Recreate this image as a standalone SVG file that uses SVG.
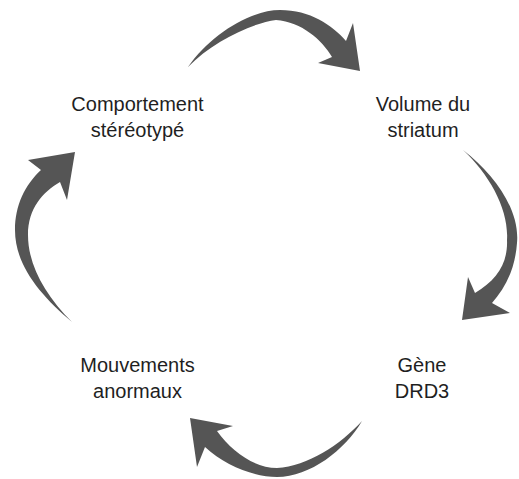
<svg xmlns="http://www.w3.org/2000/svg" width="519" height="479" viewBox="0 0 519 479">
<style>
.lbl{font-family:"Liberation Sans",Arial,sans-serif;font-size:20px;fill:#1f1f1f;text-anchor:middle}
.arr{fill:#555555;stroke:none}
</style>
<rect width="519" height="479" fill="#ffffff"/>
<g id="connectors">
<path class="arr" d="M188,67 C210,35 250,10 280,10 C310,10 332,25 346,41 L353,23 L360,71 L318,63 L332,57 C322,40 302,22 276,20 C252,23 212,42 188,67 Z"/>
<path class="arr" d="M463,150 C495,175 520,210 517,243 C515,270 505,288 492,303 L510,313 L462,320 L468,277 L475,293 C497,280 508,263 507,240 C509,210 490,175 463,150 Z"/>
<path class="arr" d="M362,421 C345,450 310,477 277,477 C255,477 225,466 205,447 L197,467 L190,418 L233,426 L217,431 C232,452 255,468 277,468 C308,466 340,445 362,421 Z"/>
<path class="arr" d="M72,322 C40,295 15,265 15,230 C15,205 25,185 41,170 L28,160 L75,152 L67,200 L60,182 C43,192 28,208 28,235 C28,265 45,295 72,322 Z"/>
</g>
<g id="node-comportement">
<text class="lbl" x="137.5" y="111">Comportement</text>
<text class="lbl" x="137.5" y="137">stéréotypé</text>
</g>
<g id="node-volume">
<text class="lbl" x="423" y="111">Volume du</text>
<text class="lbl" x="423" y="137">striatum</text>
</g>
<g id="node-gene">
<text class="lbl" x="422" y="372">Gène</text>
<text class="lbl" x="422" y="398">DRD3</text>
</g>
<g id="node-mouvements">
<text class="lbl" x="137.5" y="372">Mouvements</text>
<text class="lbl" x="137.5" y="398">anormaux</text>
</g>
</svg>
